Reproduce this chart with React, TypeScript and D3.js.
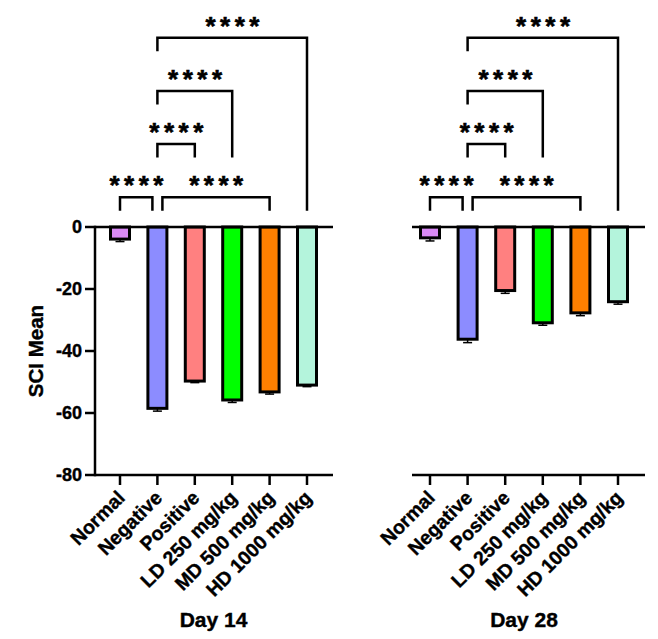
import * as d3 from "d3";

const categories = [
  "Normal",
  "Negative",
  "Positive",
  "LD 250 mg/kg",
  "MD 500 mg/kg",
  "HD 1000 mg/kg",
];
const barColors = ["#da8af5", "#8c8cff", "#ff8080", "#00ff00", "#ff8000", "#b4f4dc"];

const day14Mean = [-3.9, -58.5, -49.7, -55.8, -53.2, -51.0];
const day14Sem = [0.8, 0.9, 0.5, 0.8, 0.7, 0.5];
const day28Mean = [-3.5, -36.2, -20.5, -30.9, -27.7, -24.1];
const day28Sem = [1.0, 1.1, 0.9, 0.8, 0.9, 0.8];

const yTicks = [0, -20, -40, -60, -80];

// [from, to, level, level where the right leg stops, nudge side]
const comparisons: [number, number, number, number, number][] = [
  [0, 1, 0, 0, -1],
  [1, 4, 0, 0, 1],
  [1, 2, 1, 1, 0],
  [1, 3, 2, 1, 0],
  [1, 5, 3, 0, 0],
];
const sigLabel = "****";

const font = "'Liberation Sans', Arial, sans-serif";

const panels = [
  { title: "Day 14", mean: day14Mean, sem: day14Sem, centers: [120, 307], axis: [95, 333], showY: true },
  { title: "Day 28", mean: day28Mean, sem: day28Sem, centers: [430, 618], axis: [412, 645], showY: false },
];

export default function App() {
  const width = 658;
  const height = 639;
  const y = d3.scaleLinear().domain([-80, 0]).range([475, 227]);
  const level = d3.scaleLinear().domain([0, 3]).range([197.3, 37.7]);
  const legLength = 13.5;
  const barWidth = 19;

  return (
    <svg
      width={width}
      height={height}
      style={{ position: "absolute", left: 0, top: 0, background: "#fff" }}
      fontFamily={font}
      fontWeight="bold"
    >
      {panels.map((panel) => {
        const x = d3
          .scalePoint<string>()
          .domain(categories)
          .range(panel.centers as [number, number]);
        const cx = (i: number) => x(categories[i]) ?? 0;
        const mid = (cx(0) + cx(categories.length - 1)) / 2;
        return (
          <g key={panel.title}>
            {/* brackets */}
            {comparisons.map(([a, b, lv, rightLv, nudge]) => {
              const x1 = cx(a) + (nudge > 0 ? 5 : 0);
              const x2 = cx(b) - (nudge < 0 ? 5 : 0);
              const yl = level(lv);
              const leftBottom = yl + legLength;
              const rightBottom = level(rightLv) + legLength;
              return (
                <g key={`${a}-${b}`}>
                  <path
                    d={`M${x1},${leftBottom}V${yl}H${x2}V${rightBottom}`}
                    fill="none"
                    stroke="#000"
                    strokeWidth={2.5}
                  />
                  <text
                    x={(x1 + x2) / 2}
                    y={yl - 3}
                    dx={2.5}
                    textAnchor="middle"
                    fontSize={26}
                    letterSpacing={4.5}
                    stroke="#000"
                    strokeWidth={0.6}
                  >
                    {sigLabel}
                  </text>
                </g>
              );
            })}

            {/* bars */}
            {panel.mean.map((m, i) => {
              const top = y(0);
              const bottom = y(m);
              const errY = y(m - panel.sem[i]);
              return (
                <g key={categories[i]}>
                  <line x1={cx(i)} x2={cx(i)} y1={bottom} y2={errY} stroke="#000" strokeWidth={1.5} />
                  <line x1={cx(i) - 4.5} x2={cx(i) + 4.5} y1={errY} y2={errY} stroke="#000" strokeWidth={1.5} />
                  <rect
                    x={cx(i) - barWidth / 2}
                    y={top}
                    width={barWidth}
                    height={bottom - top}
                    fill={barColors[i]}
                    stroke="#000"
                    strokeWidth={3}
                  />
                </g>
              );
            })}

            {/* zero line and bottom axis */}
            <line x1={panel.axis[0]} x2={panel.axis[1]} y1={y(0)} y2={y(0)} stroke="#000" strokeWidth={2.5} />
            <line x1={panel.axis[0]} x2={panel.axis[1]} y1={y(-80)} y2={y(-80)} stroke="#000" strokeWidth={2.5} />
            {categories.map((c, i) => (
              <g key={c}>
                <line x1={cx(i)} x2={cx(i)} y1={y(-80)} y2={y(-80) + 10} stroke="#000" strokeWidth={2.5} />
                <text
                  transform={`translate(${cx(i) + 6}, 499) rotate(-45)`}
                  textAnchor="end"
                  fontSize={19.5}
                  stroke="#000"
                  strokeWidth={0.4}
                >
                  {c}
                </text>
              </g>
            ))}
            <text x={mid} y={627} textAnchor="middle" fontSize={21} stroke="#000" strokeWidth={0.4}>
              {panel.title}
            </text>

            {panel.showY && (
              <g>
                <line x1={panel.axis[0]} x2={panel.axis[0]} y1={y(0) - 1.25} y2={y(-80) + 1.25} stroke="#000" strokeWidth={2.5} />
                {yTicks.map((t) => (
                  <g key={t} transform={`translate(0, ${y(t)})`}>
                    <line x1={panel.axis[0] - 10} x2={panel.axis[0]} stroke="#000" strokeWidth={2.5} />
                    <text x={panel.axis[0] - 13} dy="0.36em" textAnchor="end" fontSize={18} stroke="#000" strokeWidth={0.4}>
                      {t}
                    </text>
                  </g>
                ))}
                <text
                  transform={`translate(43, ${(y(0) + y(-80)) / 2}) rotate(-90)`}
                  textAnchor="middle"
                  fontSize={20.5}
                  stroke="#000"
                  strokeWidth={0.4}
                >
                  SCI Mean
                </text>
              </g>
            )}
          </g>
        );
      })}
    </svg>
  );
}
